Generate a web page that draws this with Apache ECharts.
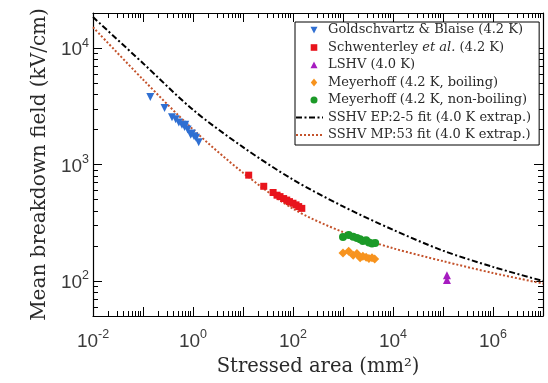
<!DOCTYPE html>
<html>
<head>
<meta charset="utf-8">
<script src="https://cdn.jsdelivr.net/npm/echarts@6/dist/echarts.min.js"></script>
<style>
html, body { margin: 0; padding: 0; background: #fff; }
#chart { width: 548px; height: 383px; }
</style>
</head>
<body>
<div id="chart"></div>
<script>
// stressed area (mm^2) and mean breakdown field (kV/cm)
const goldArea = [0.14, 0.27, 0.38, 0.45, 0.52, 0.6, 0.7, 0.68, 0.78, 0.9, 0.95, 1.05, 1.15, 1.3]
const goldField = [3800, 3050, 2550, 2450, 2300, 2200, 2200, 2100, 2000, 1800, 1850, 1750, 1700, 1550]

const schwArea = [13, 26, 40, 48, 55, 65, 75, 85, 100, 115, 130, 150]
const schwField = [810, 650, 575, 545, 530, 510, 495, 480, 465, 450, 435, 420]

const lshvArea = [1.2e5, 1.2e5]
const lshvField = [112, 102]

const boilArea = [1000, 1300, 1600, 1900, 2200, 2500, 2900, 3300, 3800, 4300]
const boilField = [174, 180, 166, 172, 158, 163, 160, 156, 158, 154]

const nonBoilArea = [1000, 1300, 1600, 1900, 2200, 2500, 2900, 3300, 3800, 4400]
const nonBoilField = [238, 248, 240, 234, 228, 220, 224, 214, 210, 212]

// extrapolated fits
const fitArea = [1e-2, 1e-1, 1, 10, 100, 1e3, 1e4, 1e5, 1e6, 1e7]
const fitEP = [18450, 7410, 2950, 1410, 741, 437, 275, 182, 132, 100]
const fitMP = [15100, 5370, 2000, 850, 417, 263, 191, 148, 117, 95]

const xLabelValues = [1e-2, 1, 100, 1e4, 1e6]
const yLabelValues = [100, 1000, 10000]

const xMin = 1e-2, xMax = 1e7
const yMin = 50, yMax = 20000

function zip(a, b) {
  return a.map((v, i) => [v, b[i]])
}

// decade and 2..9 tick positions
function majorTicks(lo, hi) {
  const out = []
  for (let e = -3; e <= 8; e++) {
    const v = Math.pow(10, e)
    if (v >= lo * 0.999 && v <= hi * 1.001) out.push(v)
  }
  return out
}
function minorTicks(lo, hi) {
  const out = []
  for (let e = -3; e <= 8; e++) {
    for (let k = 2; k <= 9; k++) {
      const v = k * Math.pow(10, e)
      if (v > lo * 1.001 && v < hi * 0.999) out.push(v)
    }
  }
  return out
}

const serif = 'DejaVu Serif'
const sans = 'Liberation Sans'

function powLabel(v) {
  const e = Math.round(Math.log10(v))
  return '{b|10}{s|' + e + '}'
}
const labelRich = {
  b: { fontFamily: sans, fontSize: 19, color: '#3a3a3a', lineHeight: 23, verticalAlign: 'bottom' },
  s: { fontFamily: sans, fontSize: 12.5, color: '#3a3a3a', lineHeight: 23, verticalAlign: 'top' }
}

// legend icons: the symbol sits inside a 27x8 box (corner moveTo's keep the box),
// so it is not stretched over the whole item width
const boxCorners = 'M0 0 M270 80 '
const iconDown = 'path://' + boxCorners + 'M145 8 L215 8 L180 76 Z'
const iconSquare = 'path://' + boxCorners + 'M147 7 L213 7 L213 73 L147 73 Z'
const iconUp = 'path://' + boxCorners + 'M180 4 L215 72 L145 72 Z'
const iconDiamond = 'path://' + boxCorners + 'M180 0 L212 40 L180 80 L148 40 Z'
const iconCircle = 'path://' + boxCorners + 'M145 40 A35 35 0 1 0 215 40 A35 35 0 1 0 145 40 Z'

function makeAxis(pos, lo, hi, major, extra) {
  const base = {
    type: 'log',
    logBase: 10,
    position: pos,
    min: lo,
    max: hi,
    splitLine: { show: false },
    axisLine: { show: major, lineStyle: { color: '#000', width: 1.2 } },
    axisTick: {
      show: true,
      inside: true,
      length: major ? 9 : 5,
      lineStyle: { color: '#000', width: 1 },
      customValues: major ? majorTicks(lo, hi) : minorTicks(lo, hi)
    },
    axisLabel: { show: false }
  }
  return Object.assign(base, extra || {})
}

const xAxes = [
  makeAxis('bottom', xMin, xMax, true, {
    name: 'Stressed area (mm²)',
    nameLocation: 'middle',
    nameGap: 41,
    nameTextStyle: { fontFamily: serif, fontSize: 19.5, color: '#2a2a2a' },
    axisLabel: {
      show: true,
      margin: 12,
      customValues: xLabelValues,
      formatter: powLabel,
      rich: labelRich
    }
  }),
  makeAxis('bottom', xMin, xMax, false),
  makeAxis('top', xMin, xMax, true),
  makeAxis('top', xMin, xMax, false)
]

const yAxes = [
  makeAxis('left', yMin, yMax, true, {
    name: 'Mean breakdown field (kV/cm)',
    nameLocation: 'middle',
    nameGap: 43,
    nameTextStyle: { fontFamily: serif, fontSize: 20, color: '#2a2a2a' },
    axisLabel: {
      show: true,
      margin: 4,
      customValues: yLabelValues,
      formatter: powLabel,
      rich: labelRich
    }
  }),
  makeAxis('left', yMin, yMax, false),
  makeAxis('right', yMin, yMax, true),
  makeAxis('right', yMin, yMax, false)
]

function scatter(name, area, field, symbol, color, size, rotate) {
  return {
    name: name,
    type: 'scatter',
    data: zip(area, field),
    symbol: symbol,
    symbolSize: size,
    symbolRotate: rotate || 0,
    itemStyle: { color: color, opacity: 1 },
    z: 5
  }
}

const option = {
  backgroundColor: '#fff',
  animation: false,
  grid: { left: 93, right: 5, top: 13, bottom: 67, outerBoundsMode: 'none' },
  xAxis: xAxes,
  yAxis: yAxes,
  legend: {
    orient: 'vertical',
    left: 295,
    top: 22,
    padding: [1, 8, 3, 0],
    itemWidth: 27,
    itemHeight: 8,
    itemGap: 3.5,
    symbolRotate: 0,
    backgroundColor: '#fff',
    borderColor: '#000',
    borderWidth: 1,
    borderRadius: 0,
    textStyle: {
      fontFamily: serif,
      fontSize: 13,
      lineHeight: 14,
      color: '#2a2a2a',
      rich: {
        n: { fontFamily: serif, fontSize: 13, lineHeight: 14, color: '#2a2a2a' },
        i: { fontFamily: serif, fontSize: 13, lineHeight: 14, color: '#2a2a2a', fontStyle: 'italic' }
      }
    },
    formatter: function (name) {
      if (name.indexOf('et al.') >= 0) {
        return '{n|Schwenterley }{i|et al.}{n| (4.2 K)}'
      }
      return name
    },
    data: [
      { name: 'Goldschvartz & Blaise (4.2 K)', icon: iconDown },
      { name: 'Schwenterley et al. (4.2 K)', icon: iconSquare },
      { name: 'LSHV (4.0 K)', icon: iconUp },
      { name: 'Meyerhoff (4.2 K, boiling)', icon: iconDiamond },
      { name: 'Meyerhoff (4.2 K, non-boiling)', icon: iconCircle },
      'SSHV EP:2-5 fit (4.0 K extrap.)',
      'SSHV MP:53 fit (4.0 K extrap.)'
    ]
  },
  series: [
    {
      name: 'SSHV EP:2-5 fit (4.0 K extrap.)',
      type: 'line',
      data: zip(fitArea, fitEP),
      smooth: 0.3,
      showSymbol: false,
      symbol: 'none',
      itemStyle: { color: 'rgba(0,0,0,0)' },
      lineStyle: { color: '#000', width: 2, type: [6, 2.5, 2, 2.5] },
      z: 3
    },
    {
      name: 'SSHV MP:53 fit (4.0 K extrap.)',
      type: 'line',
      data: zip(fitArea, fitMP),
      smooth: 0.3,
      showSymbol: false,
      symbol: 'none',
      itemStyle: { color: 'rgba(0,0,0,0)' },
      lineStyle: { color: '#c4532c', width: 2, type: [2, 2] },
      z: 3
    },
    scatter('Goldschvartz & Blaise (4.2 K)', goldArea, goldField, 'triangle', '#2f6fd2', 8, 180),
    scatter('Schwenterley et al. (4.2 K)', schwArea, schwField, 'rect', '#e8141c', 7),
    scatter('LSHV (4.0 K)', lshvArea, lshvField, 'triangle', '#a61cc0', 8),
    scatter('Meyerhoff (4.2 K, boiling)', boilArea, boilField, 'diamond', '#f7931e', 9),
    scatter('Meyerhoff (4.2 K, non-boiling)', nonBoilArea, nonBoilField, 'circle', '#1c9a28', 8)
  ]
}

const myChart = echarts.init(document.getElementById('chart'))
myChart.setOption(option, true)
</script>
</body>
</html>
